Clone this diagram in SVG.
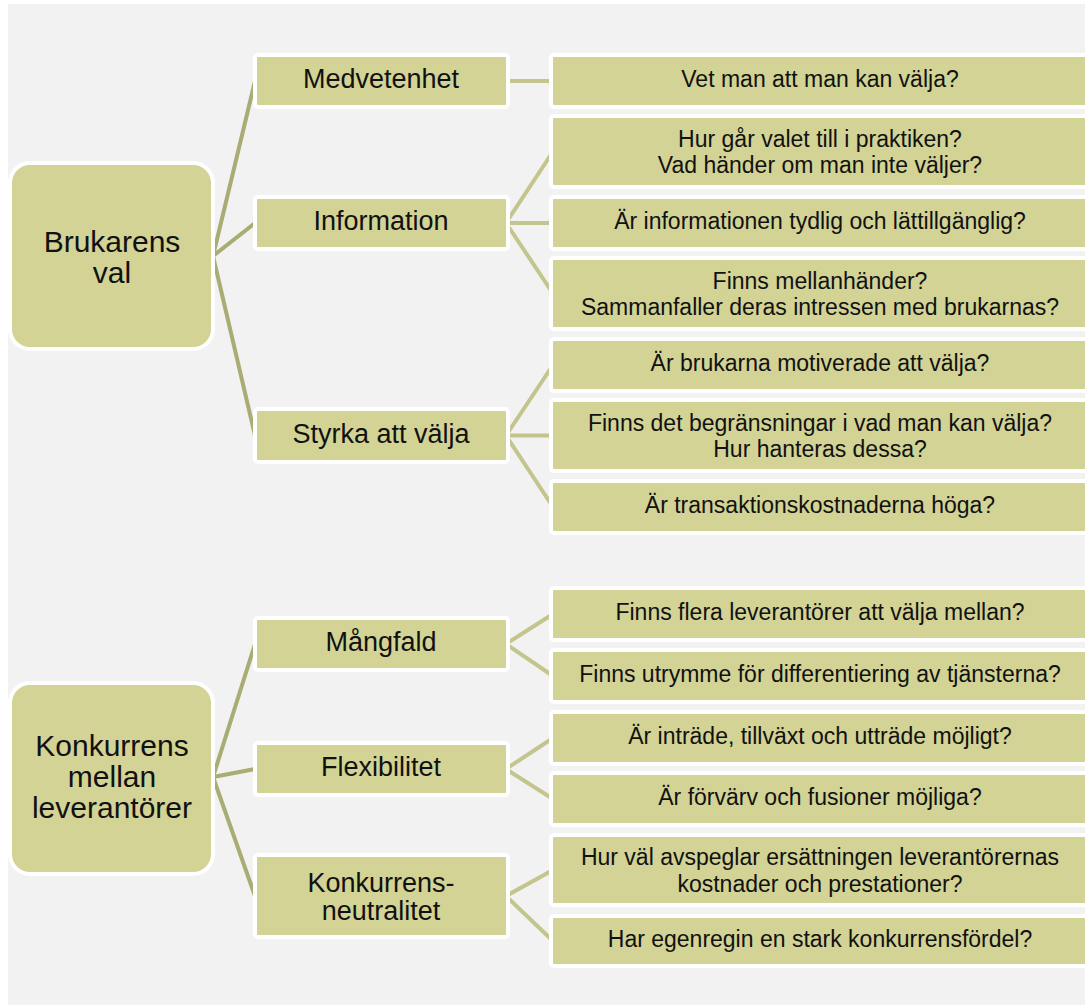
<svg xmlns="http://www.w3.org/2000/svg" width="1085" height="1005" viewBox="0 0 1085 1005">
  <style>
    .bg { fill: #f2f2f2; }
    .box { fill: #d2d394; stroke: #ffffff; stroke-width: 4; }
    .c1 { stroke: #a9ac73; stroke-width: 4; fill: none; stroke-linecap: round; }
    .c2 { stroke: #c3c58d; stroke-width: 4; fill: none; stroke-linecap: round; }
    text { font-family: "Liberation Sans", Arial, sans-serif; fill: #111111; text-anchor: middle; }
    .t0 { font-size: 30px; }
    .t1 { font-size: 27px; }
    .t2 { font-size: 23px; }
  </style>

  <rect class="bg" x="8" y="4" width="1077" height="1001"/>

  <!-- connectors -->
  <g id="connectors">
    <path class="c1" d="M213 256 L255 81 M213 256 L255 223 M213 256 L255 435.5"/>
    <path class="c1" d="M213 777 L255 644 M213 777 L255 769 M213 777 L255 896"/>
    <path class="c2" d="M506 81 L553 81"/>
    <path class="c2" d="M506 223 L553 151.5 M506 223 L553 223 M506 223 L553 293.5"/>
    <path class="c2" d="M506 435.5 L553 365 M506 435.5 L553 435.5 M506 435.5 L553 507"/>
    <path class="c2" d="M506 644 L553 614 M506 644 L553 676"/>
    <path class="c2" d="M506 769 L553 738 M506 769 L553 799"/>
    <path class="c2" d="M506 896 L553 870 M506 896 L553 941"/>
  </g>

  <!-- roots -->
  <g id="root-brukarens-val">
    <rect class="box" x="10" y="163" width="203" height="186" rx="20"/>
    <text class="t0" x="112" y="252">Brukarens</text>
    <text class="t0" x="112" y="283">val</text>
  </g>
  <g id="root-konkurrens">
    <rect class="box" x="10" y="683" width="203" height="191" rx="20"/>
    <text class="t0" x="112" y="756">Konkurrens</text>
    <text class="t0" x="112" y="787">mellan</text>
    <text class="t0" x="112" y="818">leverantörer</text>
  </g>

  <!-- second level -->
  <g id="n-medvetenhet">
    <rect class="box" x="255" y="55" width="253" height="52" rx="3"/>
    <text class="t1" x="381" y="88">Medvetenhet</text>
  </g>
  <g id="n-information">
    <rect class="box" x="255" y="197" width="253" height="52" rx="3"/>
    <text class="t1" x="381" y="230">Information</text>
  </g>
  <g id="n-styrka">
    <rect class="box" x="255" y="409" width="253" height="53" rx="3"/>
    <text class="t1" x="381" y="443">Styrka att välja</text>
  </g>
  <g id="n-mangfald">
    <rect class="box" x="255" y="618" width="253" height="52" rx="3"/>
    <text class="t1" x="381" y="651">Mångfald</text>
  </g>
  <g id="n-flexibilitet">
    <rect class="box" x="255" y="743" width="253" height="52" rx="3"/>
    <text class="t1" x="381" y="776">Flexibilitet</text>
  </g>
  <g id="n-neutralitet">
    <rect class="box" x="255" y="855" width="253" height="82" rx="3"/>
    <text class="t1" x="381" y="892">Konkurrens-</text>
    <text class="t1" x="381" y="920">neutralitet</text>
  </g>

  <!-- questions -->
  <g id="q-vet-man">
    <rect class="box" x="551" y="55" width="540" height="52" rx="3"/>
    <text class="t2" x="820" y="87">Vet man att man kan välja?</text>
  </g>
  <g id="q-hur-gar">
    <rect class="box" x="551" y="116" width="540" height="71" rx="3"/>
    <text class="t2" x="820" y="146.5">Hur går valet till i praktiken?</text>
    <text class="t2" x="820" y="173">Vad händer om man inte väljer?</text>
  </g>
  <g id="q-informationen">
    <rect class="box" x="551" y="197" width="540" height="52" rx="3"/>
    <text class="t2" x="820" y="229">Är informationen tydlig och lättillgänglig?</text>
  </g>
  <g id="q-mellanhander">
    <rect class="box" x="551" y="258" width="540" height="71" rx="3"/>
    <text class="t2" x="820" y="288.5">Finns mellanhänder?</text>
    <text class="t2" x="820" y="315">Sammanfaller deras intressen med brukarnas?</text>
  </g>
  <g id="q-motiverade">
    <rect class="box" x="551" y="339" width="540" height="52" rx="3"/>
    <text class="t2" x="820" y="371">Är brukarna motiverade att välja?</text>
  </g>
  <g id="q-begransningar">
    <rect class="box" x="551" y="400" width="540" height="71" rx="3"/>
    <text class="t2" x="820" y="430.5">Finns det begränsningar i vad man kan välja?</text>
    <text class="t2" x="820" y="457">Hur hanteras dessa?</text>
  </g>
  <g id="q-transaktion">
    <rect class="box" x="551" y="481" width="540" height="52" rx="3"/>
    <text class="t2" x="820" y="513">Är transaktionskostnaderna höga?</text>
  </g>
  <g id="q-flera">
    <rect class="box" x="551" y="588" width="540" height="52" rx="3"/>
    <text class="t2" x="820" y="620">Finns flera leverantörer att välja mellan?</text>
  </g>
  <g id="q-utrymme">
    <rect class="box" x="551" y="650" width="540" height="52" rx="3"/>
    <text class="t2" x="820" y="682">Finns utrymme för differentiering av tjänsterna?</text>
  </g>
  <g id="q-intrade">
    <rect class="box" x="551" y="712" width="540" height="52" rx="3"/>
    <text class="t2" x="820" y="744">Är inträde, tillväxt och utträde möjligt?</text>
  </g>
  <g id="q-forvarv">
    <rect class="box" x="551" y="773" width="540" height="52" rx="3"/>
    <text class="t2" x="820" y="805">Är förvärv och fusioner möjliga?</text>
  </g>
  <g id="q-ersattning">
    <rect class="box" x="551" y="835" width="540" height="70" rx="3"/>
    <text class="t2" x="820" y="865">Hur väl avspeglar ersättningen leverantörernas</text>
    <text class="t2" x="820" y="891.5">kostnader och prestationer?</text>
  </g>
  <g id="q-egenregin">
    <rect class="box" x="551" y="916" width="540" height="50" rx="3"/>
    <text class="t2" x="820" y="947">Har egenregin en stark konkurrensfördel?</text>
  </g>
</svg>
